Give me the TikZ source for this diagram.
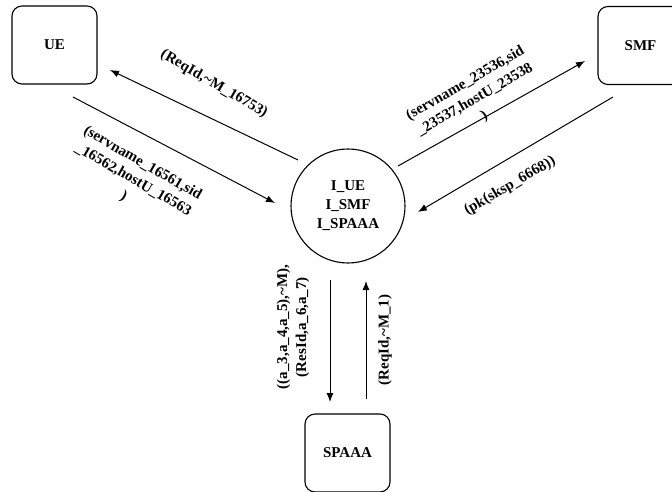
\documentclass[tikz,border=0pt]{standalone}
\usepackage{fontspec}
\setmainfont{Liberation Serif}
\usetikzlibrary{arrows.meta}
\begin{document}
\begin{tikzpicture}[x=1pt,y=-1pt,
  txt/.style={font=\fontsize{15}{19}\bfseries\selectfont},
  entity/.style={txt, draw, line width=1.1pt, rounded corners=10pt,
    minimum width=85pt, minimum height=78pt, inner sep=0pt},
  hubnode/.style={txt, draw, circle, line width=1.1pt, minimum size=114pt,
    inner sep=0pt, align=center},
  msg/.style={line width=1pt, -{Latex[length=9pt,width=7pt]}},
  lbl/.style={txt, align=center, inner sep=0pt}
]
\clip (0,0) rectangle (672,492);

% participants
\node[entity] (ue) at (54.5,45) {UE};
\node[entity] (smf) at (640.5,45.5) {SMF};
\node[entity] (spaaa) at (347.5,453) {SPAAA};
\node[hubnode] (hub) at (348,206) {I\_UE\\I\_SMF\\I\_SPAAA};

% arrow end points
\coordinate (ueOut) at (73,97);
\coordinate (hubInUE) at (275,203);
\coordinate (hubOutUE) at (298,160);
\coordinate (ueIn) at (110,70);
\coordinate (hubOutSMF) at (398,166);
\coordinate (smfIn) at (585,61);
\coordinate (smfOut) at (613,97);
\coordinate (hubInSMF) at (418,212);
\coordinate (hubOutSP) at (330,280);
\coordinate (spIn) at (330,402);
\coordinate (spOut) at (366,399);
\coordinate (hubInSP) at (366,281);

% messages
\draw[msg] (ueOut) -- (hubInUE);
\draw[msg] (hubOutUE) -- (ueIn);
\draw[msg] (hubOutSMF) -- (smfIn);
\draw[msg] (smfOut) -- (hubInSMF);
\draw[msg] (hubOutSP) -- (spIn);
\draw[msg] (spOut) -- (hubInSP);

% message labels
\node[lbl, rotate=-30] (l1) at (214,84) {(ReqId,\textasciitilde M\_16753)};
\node[lbl, rotate=-30] (l2) at (133,180) {(servname\_16561,sid\\\_16562,hostU\_16563\\)};
\node[lbl, rotate=30] (l3) at (475,100) {(servname\_23536,sid\\\_23537,hostU\_23538\\)};
\node[lbl, rotate=30] (l4) at (510,186) {(pk(sksp\_6668))};
\node[lbl, rotate=90] (l5) at (293,327) {((a\_3,a\_4,a\_5),\textasciitilde M),\\(ResId,a\_6,a\_7)};
\node[lbl, rotate=90] (l6) at (385,340) {(ReqId,\textasciitilde M\_1)};
\end{tikzpicture}
\end{document}
